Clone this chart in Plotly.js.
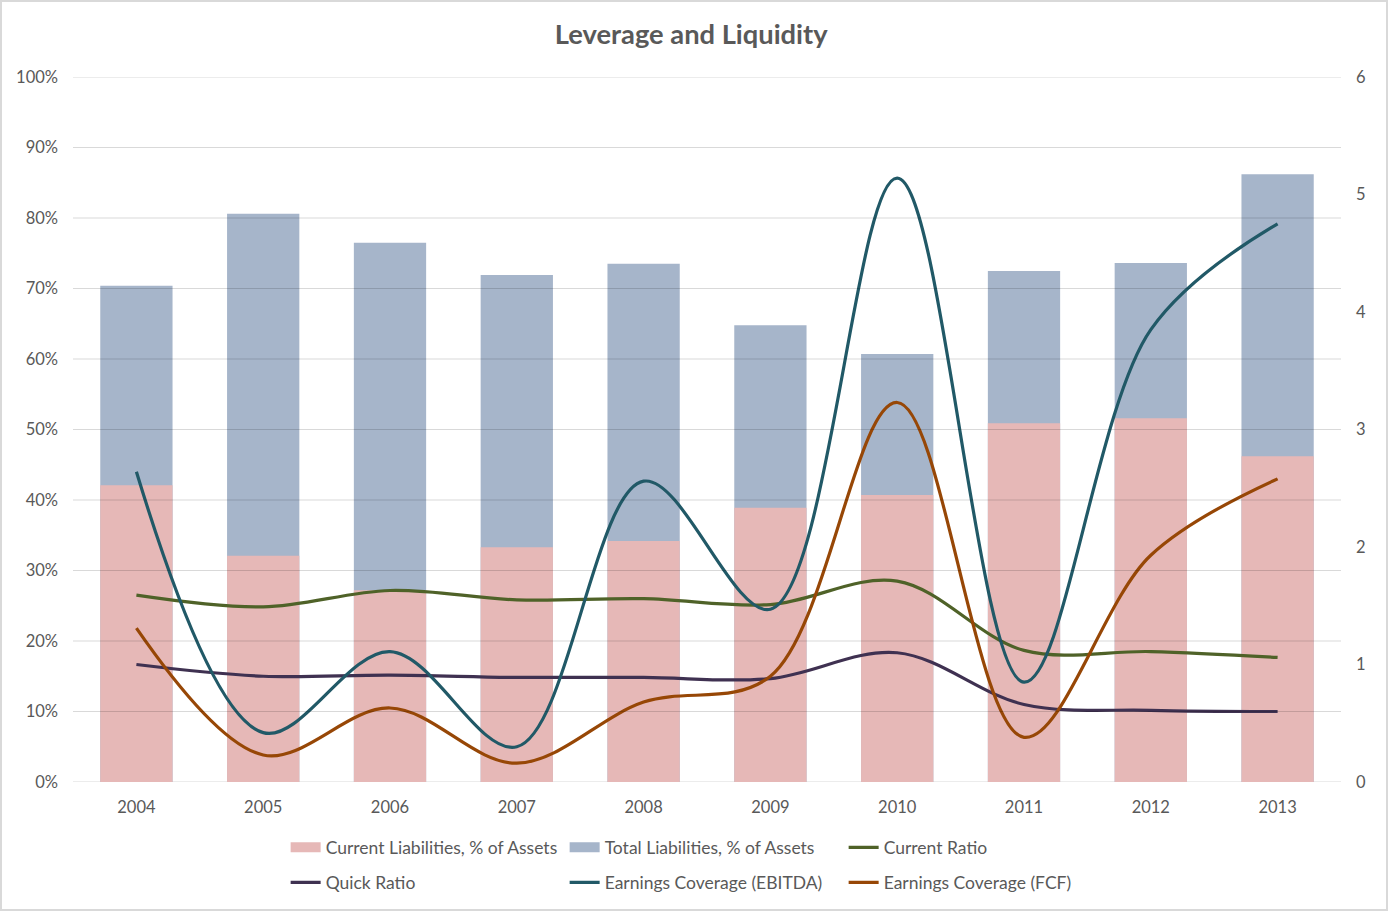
<!DOCTYPE html>
<html><head><meta charset="utf-8">
<script src="https://cdn.plot.ly/plotly-3.0.1.min.js"></script>
<style>
html,body{margin:0;padding:0;background:#fff;}
#wrap{position:relative;width:1388px;height:911px;}
#chart{width:1388px;height:911px;}
#frame{position:absolute;left:0;top:0;width:1388px;height:911px;box-sizing:border-box;border:2px solid #d9d9d9;pointer-events:none;}
</style>
</head><body>
<div id="wrap"><div id="chart"></div><div id="frame"></div></div>
<script>
const years = ['2004','2005','2006','2007','2008','2009','2010','2011','2012','2013'];
const currentLiab = [0.421, 0.321, 0.272, 0.333, 0.342, 0.389, 0.407, 0.509, 0.516, 0.462];
const totalLiab   = [0.704, 0.806, 0.765, 0.719, 0.735, 0.648, 0.607, 0.725, 0.736, 0.862];
const currentRatio = [1.59, 1.49, 1.63, 1.55, 1.56, 1.51, 1.71, 1.12, 1.11, 1.06];
const quickRatio   = [1.00, 0.90, 0.91, 0.89, 0.89, 0.88, 1.10, 0.66, 0.61, 0.60];
const ebitdaCov    = [2.64, 0.42, 1.11, 0.30, 2.56, 1.47, 5.14, 0.85, 3.85, 4.75];
const fcfCov       = [1.31, 0.23, 0.63, 0.16, 0.68, 0.90, 3.23, 0.38, 1.93, 2.58];
const gridTicks = [0.1,0.2,0.3,0.4,0.5,0.6,0.7,0.8,0.9,1.0];

const font = "Lato, 'Open Sans', sans-serif";
const C = {cur:'#E6B8B7', tot:'#A6B5CA', cr:'#4F6228', qr:'#3F3151', eb:'#215967', fcf:'#974706'};
function line(name, y, color, rank, lg){
  return {type:'scatter', mode:'lines', name:name, x:years, y:y, yaxis:'y2', legend:lg,
    line:{color:color, width:3.2, shape:'spline', smoothing:1}, legendrank:rank};
}
function swatch(name, color, rank){
  return {type:'scatter', mode:'lines', name:name, x:[null], y:[null], legend:'legend',
    line:{color:color, width:10}, legendrank:rank, hoverinfo:'skip'};
}
const traces = [
  {type:'bar', name:'Total Liabilities, % of Assets', x:years, y:totalLiab,
   marker:{color:C.tot}, showlegend:false},
  {type:'bar', name:'Current Liabilities, % of Assets', x:years, y:currentLiab,
   marker:{color:C.cur}, showlegend:false},
  swatch('Current Liabilities, % of Assets', C.cur, 1),
  swatch('Total Liabilities, % of Assets', C.tot, 2),
  line('Current Ratio', currentRatio, C.cr, 3, 'legend'),
  line('Quick Ratio', quickRatio, C.qr, 4, 'legend2'),
  line('Earnings Coverage (EBITDA)', ebitdaCov, C.eb, 5, 'legend2'),
  line('Earnings Coverage (FCF)', fcfCov, C.fcf, 6, 'legend2')
];
const shapes = gridTicks.map(v => ({type:'line', xref:'paper', x0:0, x1:1, yref:'y', y0:v, y1:v,
  line:{color:'rgba(0,0,0,0.15)', width:1}, layer:'above'}));
shapes.push({type:'line', xref:'paper', x0:0, x1:1, yref:'y', y0:0, y1:0,
  line:{color:'#d9d9d9', width:1}, layer:'below'});
const legendBase = {orientation:'h', xanchor:'left', yanchor:'top', yref:'container',
    entrywidth:234, entrywidthmode:'pixels', tracegroupgap:0,
    font:{family:font, size:17.5, color:'#595959'}, traceorder:'normal', bgcolor:'rgba(0,0,0,0)'};
const layout = {
  width:1388, height:911,
  margin:{l:73, r:47, t:77, b:129},
  paper_bgcolor:'#fff', plot_bgcolor:'rgba(0,0,0,0)',
  font:{family:font, size:16, color:'#595959'},
  title:{text:'<b>Leverage and Liquidity</b>', x:0.498, xanchor:'center', y:0.962, yanchor:'middle',
    font:{family:font, size:27.3, color:'#595959'}},
  barmode:'overlay', bargap:0.43,
  xaxis:{type:'category', range:[-0.5, 9.5], showgrid:false, ticks:'', showline:false,
    tickfont:{size:16.5, color:'#595959'}, ticklabelstandoff:13, zeroline:false},
  yaxis:{range:[0,1], dtick:0.1, tickformat:'.0%', showgrid:false,
    zeroline:false, showline:false, ticks:'', ticklabelstandoff:14,
    tickfont:{size:16.5, color:'#595959'}},
  yaxis2:{range:[0,6], dtick:1, overlaying:'y', side:'right', showgrid:false, zeroline:false,
    ticks:'', ticklabelstandoff:14, tickfont:{size:16.5, color:'#595959'}},
  shapes:shapes,
  showlegend:true,
  legend:Object.assign({}, legendBase, {x:0.1677, y:0.0895}),
  legend2:Object.assign({}, legendBase, {x:0.1677, y:0.051})
};
Plotly.newPlot('chart', traces, layout, {displayModeBar:false, staticPlot:true});
</script>
</body></html>
